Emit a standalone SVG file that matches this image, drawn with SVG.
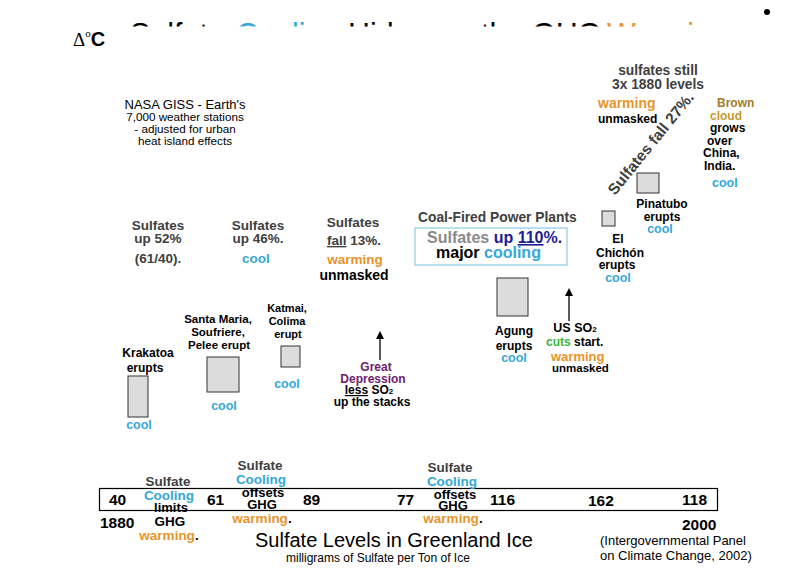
<svg xmlns="http://www.w3.org/2000/svg" width="792" height="576" viewBox="0 0 792 576">
<style>
text{font-family:"Liberation Sans",Arial,sans-serif;font-weight:bold;font-size:13px;fill:#000}
.g{fill:#404040}
.c{fill:#35a7d8}
.w{fill:#e8942c}
.r{font-weight:normal}
.m{text-anchor:middle}
.u{text-decoration:underline}
.box{fill:#dcdcdc;stroke:#333;stroke-width:1}
.ln{stroke:#000;stroke-width:1.3;fill:none}
</style>
<defs>
<marker id="ah" markerWidth="8" markerHeight="8" refX="4" refY="4" orient="auto" markerUnits="userSpaceOnUse"><path d="M0,0 L8,4 L0,8 Z" fill="#000"/></marker>
<clipPath id="tc"><rect x="0" y="0" width="792" height="26.5"/></clipPath>
</defs>
<rect width="792" height="576" fill="#fff"/>

<g id="title" clip-path="url(#tc)">
<text y="45" style="font-size:30.5px;font-weight:normal"><tspan x="130">Sulfate</tspan><tspan x="236" class="c">Cooling</tspan><tspan x="348">Hides</tspan><tspan x="481">the</tspan><tspan x="532">GHG</tspan><tspan x="607" class="w">Warming</tspan></text>
</g>
<circle cx="767" cy="12" r="3" fill="#000"/>

<g id="axis-label">
<text x="73" y="46"><tspan style="font-family:'Liberation Serif',serif;font-weight:normal;font-size:19px">Δ</tspan><tspan dy="-9" style="font-family:'Liberation Serif',serif;font-weight:normal;font-size:11px">o</tspan><tspan dy="9" style="font-size:20px">C</tspan></text>
</g>

<g id="nasa">
<text class="r m" x="185" y="109" style="font-size:13px">NASA GISS - Earth's</text>
<text class="r m" x="185" y="121" style="font-size:11.7px">7,000 weather stations</text>
<text class="r m" x="185" y="133" style="font-size:11.7px">- adjusted for urban</text>
<text class="r m" x="185" y="145" style="font-size:11.7px">heat island effects</text>
</g>

<g id="still">
<text class="g m" x="658" y="75" style="font-size:13.8px">sulfates still</text>
<text class="g m" x="658" y="89" style="font-size:13.8px">3x 1880 levels</text>
<text class="w" x="598" y="108" style="font-size:14px">warming</text>
<text x="598" y="123" style="font-size:12px">unmasked</text>
<text class="g" transform="translate(615,196) rotate(-51)" style="font-size:15.5px">Sulfates fall 27%.</text>
</g>

<g id="brown-cloud">
<text x="717" y="107" style="font-size:12px;fill:#a57c2a">Brown</text>
<text x="710" y="120" style="font-size:12px;fill:#c49a2e">cloud</text>
<text x="710" y="132" style="font-size:12px">grows</text>
<text x="707" y="145" style="font-size:12px">over</text>
<text x="703" y="157" style="font-size:12px">China,</text>
<text x="704" y="170" style="font-size:12px">India.</text>
<text class="c" x="712" y="187" style="font-size:12.5px">cool</text>
</g>

<g id="pinatubo">
<rect class="box" x="637" y="173" width="22" height="20"/>
<text class="m" x="662" y="208" style="font-size:12px">Pinatubo</text>
<text class="m" x="662" y="221" style="font-size:12px">erupts</text>
<text class="c m" x="660" y="233" style="font-size:12.5px">cool</text>
</g>

<g id="el-chichon">
<rect class="box" x="602" y="211" width="13" height="15"/>
<text class="m" x="618" y="243" style="font-size:12px">El</text>
<text class="m" x="620" y="257" style="font-size:12px">Chichón</text>
<text class="m" x="617" y="269" style="font-size:12px">erupts</text>
<text class="c m" x="618" y="282" style="font-size:12.5px">cool</text>
</g>

<g id="us-so2">
<text class="m" x="575" y="332" style="font-size:12.5px">US SO<tspan style="font-size:8px">2</tspan></text>
<text x="546" y="346" style="font-size:12px"><tspan style="fill:#3cb43c">cuts</tspan> start.</text>
<text class="w" x="551" y="361" style="font-size:13px">warming</text>
<text x="552" y="372" style="font-size:11.5px">unmasked</text>
</g>

<g id="agung">
<rect class="box" x="497" y="278" width="31" height="38"/>
<text class="m" x="514" y="335" style="font-size:12px">Agung</text>
<text class="m" x="514" y="350" style="font-size:12px">erupts</text>
<text class="c m" x="514" y="362" style="font-size:12.5px">cool</text>
</g>

<g id="coal">
<text class="g" x="418" y="222" style="font-size:13.8px">Coal-Fired Power Plants</text>
<rect x="415" y="228" width="152" height="37" fill="#fff" stroke="#8ccbe6" stroke-width="1.2"/>
<text x="427" y="243" style="font-size:16px"><tspan style="fill:#8a8a8a">Sulfates</tspan> <tspan style="fill:#1c1c96">up</tspan> <tspan class="u" style="fill:#1c1c96">110</tspan><tspan style="fill:#1c1c96">%.</tspan></text>
<text x="436" y="258" style="font-size:16px">major <tspan class="c">cooling</tspan></text>
</g>

<g id="up52">
<text class="g m" x="158" y="230" style="font-size:13.5px">Sulfates</text>
<text class="g m" x="158" y="243" style="font-size:13.5px">up 52%</text>
<text class="g m" x="158" y="263" style="font-size:13.5px">(61/40).</text>
</g>

<g id="up46">
<text class="g m" x="258" y="230" style="font-size:13.5px">Sulfates</text>
<text class="g m" x="258" y="243" style="font-size:13.5px">up 46%.</text>
<text class="c m" x="256" y="263" style="font-size:13.5px">cool</text>
</g>

<g id="fall13">
<text class="g m" x="353" y="227" style="font-size:13.5px">Sulfates</text>
<text class="g m" x="354" y="245" style="font-size:13.5px"><tspan class="u">fall</tspan> 13%.</text>
<text class="w m" x="355" y="264" style="font-size:13.5px">warming</text>
<text class="m" x="354" y="280" style="font-size:14px">unmasked</text>
</g>

<g id="katmai">
<text class="m" x="287" y="312" style="font-size:11px">Katmai,</text>
<text class="m" x="287" y="325" style="font-size:11px">Colima</text>
<text class="m" x="288" y="338" style="font-size:11px">erupt</text>
<rect class="box" x="281" y="346" width="19" height="21"/>
<text class="c m" x="287" y="388" style="font-size:12.5px">cool</text>
</g>

<g id="santa-maria">
<text class="m" x="218" y="323" style="font-size:11.5px">Santa Maria,</text>
<text class="m" x="218" y="336" style="font-size:11.5px">Soufriere,</text>
<text class="m" x="219" y="349" style="font-size:11.5px">Pelee erupt</text>
<rect class="box" x="207" y="357" width="32" height="35"/>
<text class="c m" x="224" y="410" style="font-size:12.5px">cool</text>
</g>

<g id="krakatoa">
<text class="m" x="148" y="357" style="font-size:12px">Krakatoa</text>
<text class="m" x="145" y="372" style="font-size:12px">erupts</text>
<rect class="box" x="128" y="376" width="20" height="41"/>
<text class="c m" x="139" y="429" style="font-size:12.5px">cool</text>
</g>

<g id="depression">
<text class="m" x="376" y="371" style="font-size:12px;fill:#6e2170">Great</text>
<text class="m" x="373" y="383" style="font-size:12px;fill:#6e2170">Depression</text>
<text class="m" x="369" y="394" style="font-size:12px"><tspan class="u">less</tspan> SO<tspan style="font-size:8px">2</tspan></text>
<text class="m" x="372" y="406" style="font-size:12px">up the stacks</text>
</g>

<g id="connectors">
<line class="ln" x1="380" y1="360" x2="380" y2="335" marker-end="url(#ah)"/>
<line class="ln" x1="569" y1="321" x2="569" y2="292" marker-end="url(#ah)"/>
</g>

<g id="ice-band">
<rect x="99.5" y="488.5" width="618" height="22" fill="none" stroke="#000" stroke-width="1.2"/>
<text x="109" y="505" style="font-size:15.5px">40</text>
<text x="100" y="528" style="font-size:15.5px">1880</text>
<text x="207" y="505" style="font-size:15.5px">61</text>
<text x="303" y="505" style="font-size:15.5px">89</text>
<text x="397" y="505" style="font-size:15.5px">77</text>
<text x="490" y="505" style="font-size:15.5px">116</text>
<text x="588" y="506" style="font-size:15.5px">162</text>
<text x="682" y="505" style="font-size:15.5px">118</text>
<text x="682" y="530" style="font-size:15.5px">2000</text>
</g>

<g id="cooling-1">
<text class="g m" x="168" y="486" style="font-size:13.5px">Sulfate</text>
<text class="c m" x="169" y="500" style="font-size:13.5px">Cooling</text>
<text class="m" x="171" y="512" style="font-size:13px">limits</text>
<text class="m" x="170" y="526" style="font-size:13.5px">GHG</text>
<text class="m" x="169" y="540" style="font-size:13.5px"><tspan class="w">warming</tspan>.</text>
</g>

<g id="cooling-2">
<text class="g m" x="260" y="470" style="font-size:13.5px">Sulfate</text>
<text class="c m" x="261" y="484" style="font-size:13.5px">Cooling</text>
<text class="m" x="263" y="497" style="font-size:13px">offsets</text>
<text class="m" x="262" y="509" style="font-size:13px">GHG</text>
<text class="m" x="262" y="523" style="font-size:13.5px"><tspan class="w">warming</tspan>.</text>
</g>

<g id="cooling-3">
<text class="g m" x="450" y="472" style="font-size:13.5px">Sulfate</text>
<text class="c m" x="452" y="486" style="font-size:13.5px">Cooling</text>
<text class="m" x="455" y="499" style="font-size:13px">offsets</text>
<text class="m" x="453" y="510" style="font-size:13px">GHG</text>
<text class="m" x="453" y="523" style="font-size:13.5px"><tspan class="w">warming</tspan>.</text>
</g>

<g id="captions">
<text class="r" x="255" y="547" style="font-size:20px">Sulfate Levels in Greenland Ice</text>
<text class="r" x="286" y="562" style="font-size:12px">milligrams of Sulfate per Ton of Ice</text>
<text class="r" x="600" y="545" style="font-size:13px">(Intergovernmental Panel</text>
<text class="r" x="600" y="560" style="font-size:13px">on Climate Change, 2002)</text>
</g>
</svg>
